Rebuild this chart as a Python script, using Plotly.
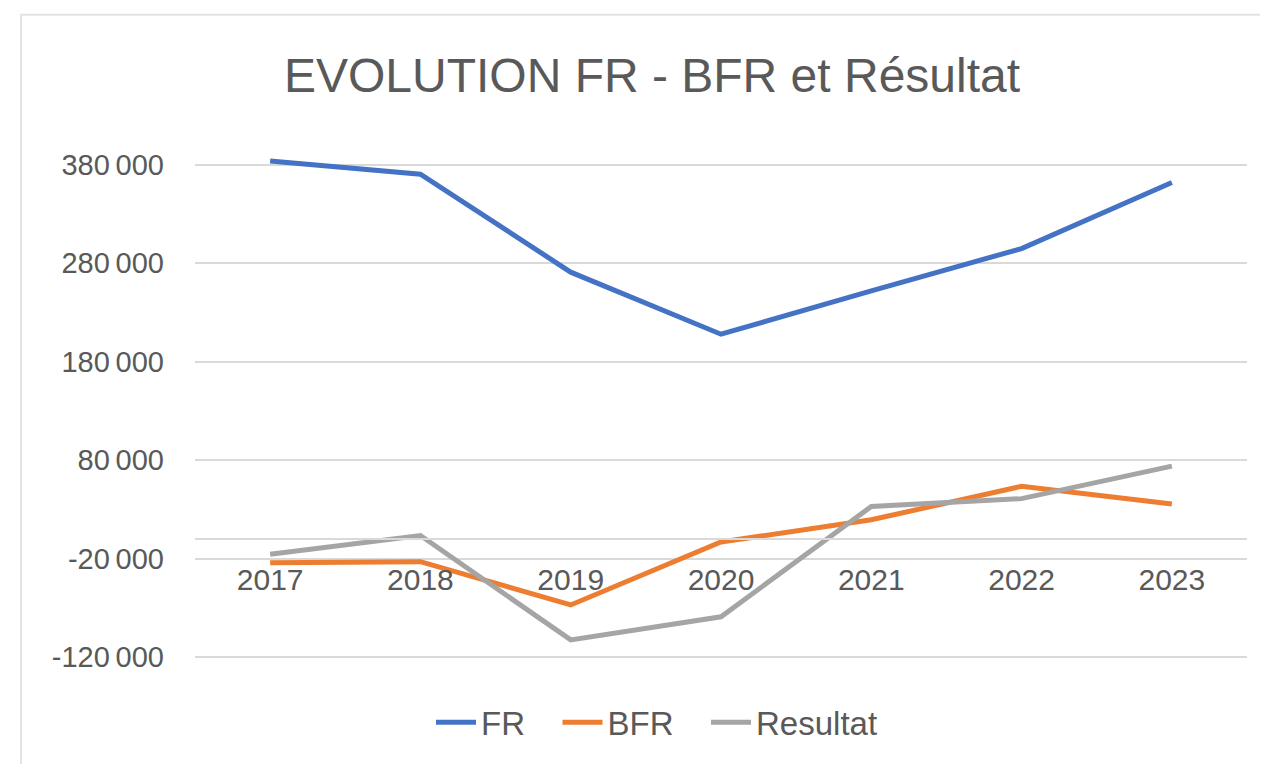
import plotly.graph_objects as go

years = ["2017", "2018", "2019", "2020", "2021", "2022", "2023"]
fr = [384000, 370500, 271000, 208000, 252000, 295000, 362000]
bfr = [-24000, -23000, -67000, -3000, 19500, 53500, 35500]
resultat = [-15500, 3500, -102500, -79000, 33000, 41000, 74000]
series_names = ["FR", "BFR", "Resultat"]

y_tickvals = [-120000, -20000, 80000, 180000, 280000, 380000]
y_ticktext = ["-120\u2009000", "-20\u2009000", "80\u2009000", "180\u2009000", "280\u2009000", "380\u2009000"]

FONT = "Liberation Sans, Arial, Helvetica, sans-serif"
TXT = "#595959"
PAD = "\u00a0" * 3  # extra gap between legend entries

fig = go.Figure()
fig.add_trace(go.Scatter(x=years, y=fr, name=series_names[0] + PAD, mode="lines",
                         line=dict(color="#4472C4", width=5)))
fig.add_trace(go.Scatter(x=years, y=bfr, name=series_names[1] + PAD, mode="lines",
                         line=dict(color="#ED7D31", width=5)))
fig.add_trace(go.Scatter(x=years, y=resultat, name=series_names[2], mode="lines",
                         line=dict(color="#A5A5A5", width=5)))

# page body has an 8px offset; layout positions are compensated
OFF = 8
px_per = 492 / 500000.0
ymin, ymax = -130000, 390000
top_px = 165 - OFF - (ymax - 380000) * px_per
bot_px = 657 - OFF + (-120000 - ymin) * px_per
plot_h = bot_px - top_px
left_px = 195 - OFF
right_px = 1247 - OFF
plot_w = right_px - left_px
zero_pos = (0 - ymin) / (ymax - ymin)

def px_to_paper_x(px):
    return (px - OFF - left_px) / plot_w

def px_to_paper_y(py):
    return (bot_px - (py - OFF)) / plot_h

fig.update_layout(
    width=1268, height=764,
    margin=dict(l=left_px, r=1268 - right_px, t=top_px, b=764 - bot_px, autoexpand=False),
    paper_bgcolor="white", plot_bgcolor="white",
    font=dict(family=FONT, color=TXT, size=28),
    title=dict(text="EVOLUTION FR - BFR et Résultat", x=(652 - OFF) / 1268, xref="container",
               xanchor="center", y=1 - (75 - OFF) / 764, yref="container", yanchor="middle",
               font=dict(family=FONT, size=48, color=TXT)),
    showlegend=True,
    legend=dict(orientation="h", x=px_to_paper_x(657), xanchor="center",
                y=px_to_paper_y(722), yanchor="middle",
                font=dict(family=FONT, size=33, color=TXT), itemwidth=40,
                bgcolor="rgba(0,0,0,0)"),
    xaxis=dict(type="category", anchor="free", position=zero_pos,
               showline=True, linecolor="#d9d9d9", linewidth=1.5,
               showgrid=False, ticks="", tickfont=dict(size=30, color=TXT),
               ticklabelstandoff=14, range=[-0.5, 6.5], zeroline=False),
    yaxis=dict(range=[ymin, ymax], tickvals=y_tickvals, ticktext=y_ticktext,
               showgrid=True, gridcolor="#d9d9d9", gridwidth=1.5, zeroline=False,
               showline=False, ticks="", tickfont=dict(size=29, color=TXT),
               ticklabelstandoff=30),
    shapes=[dict(type="rect", xref="paper", yref="paper",
                 x0=px_to_paper_x(21), x1=1.3, y0=-0.6, y1=px_to_paper_y(15),
                 line=dict(color="#e3e3e3", width=2), fillcolor="rgba(0,0,0,0)", layer="below")],
)

fig.write_html("out.html")
